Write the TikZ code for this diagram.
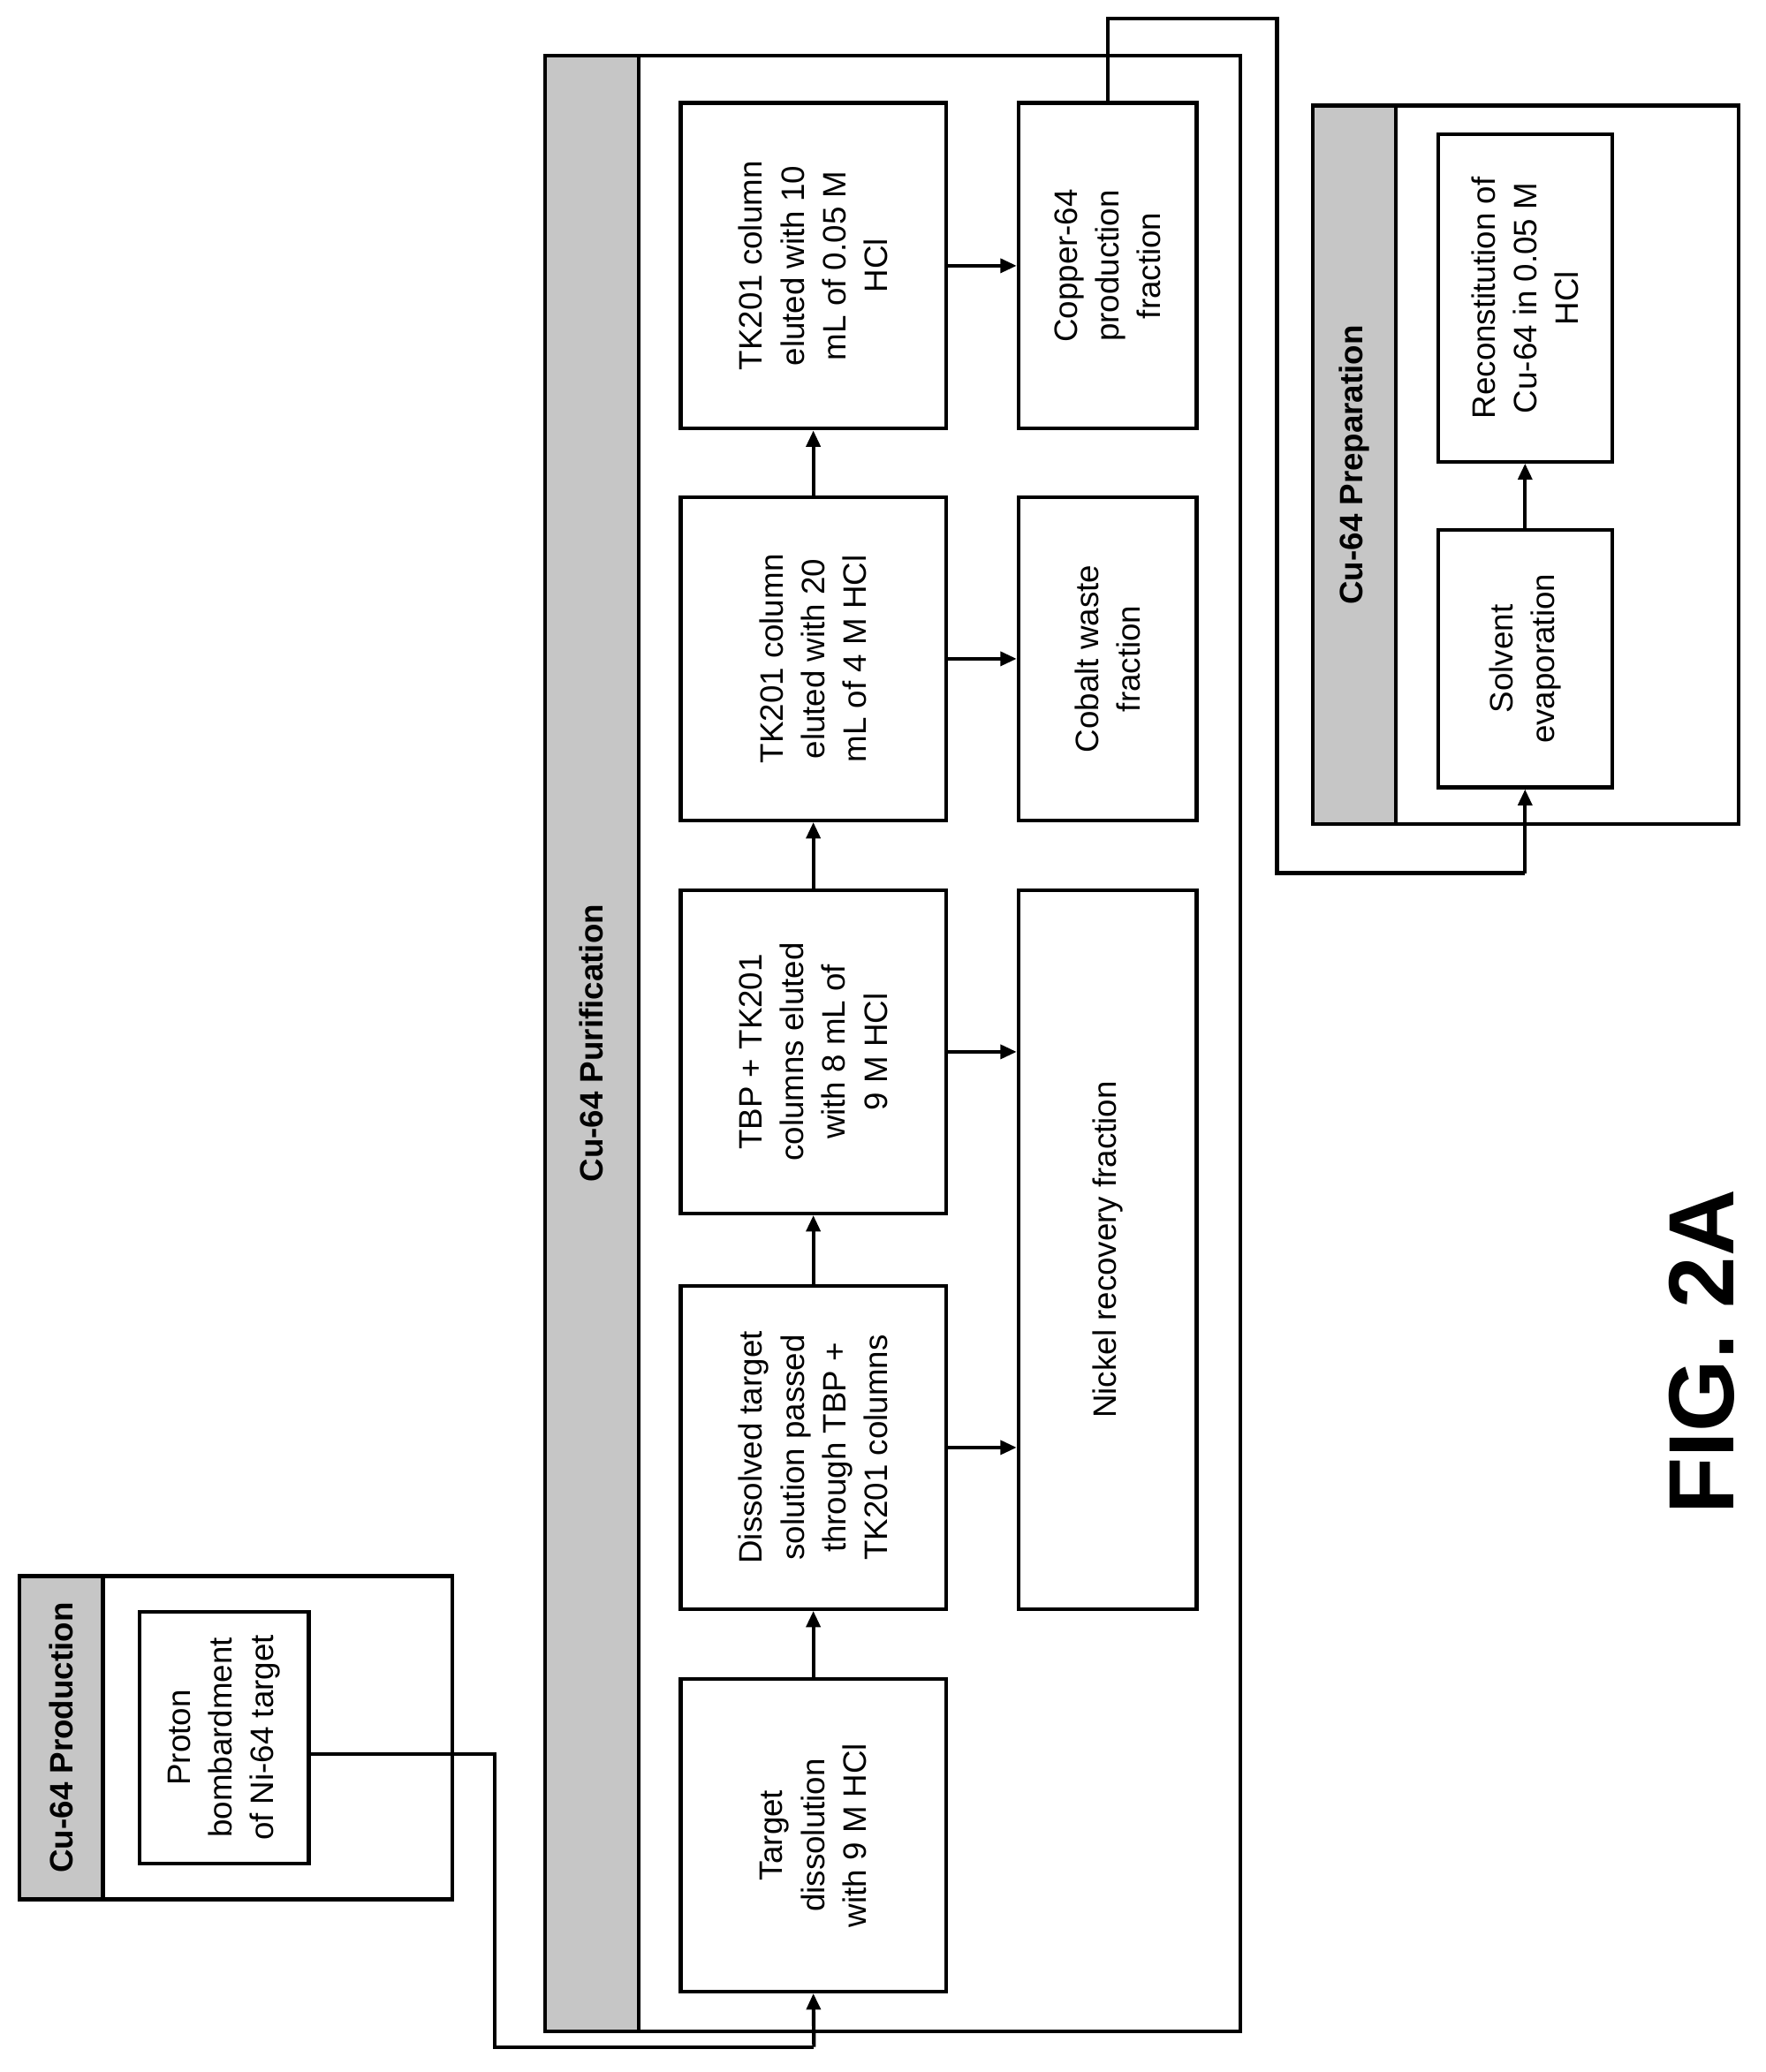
\documentclass[tikz,border=0pt]{standalone}
\usepackage{fontspec}
\setmainfont{Liberation Sans}
\usetikzlibrary{arrows.meta}
\begin{document}
\begin{tikzpicture}[x=0.02cm,y=-0.02cm,
  box/.style={draw,line width=1.6pt,rotate=90,align=center,inner sep=0pt,font=\fontsize{14}{18}\selectfont},
  hdr/.style={rotate=90,font=\bfseries\fontsize{14}{18}\selectfont},
  frame/.style={line width=1.6pt},
  arr/.style={line width=1.6pt,-{Triangle[length=7pt,width=6pt]}},
  ln/.style={line width=1.6pt}]
\useasboundingbox (0,0) rectangle (1338,1571);
% outer frames
\fill[gray!45] (15,1195) rectangle (78,1440);
\draw[frame] (15,1195) rectangle (343,1440);
\draw[frame] (78,1195) -- (78,1440);
\node[hdr] (hp) at (46.5,1317.5) {Cu-64 Production};
\fill[gray!45] (413,42) rectangle (484,1540);
\draw[frame] (413,42) rectangle (940,1540);
\draw[frame] (484,42) -- (484,1540);
\node[hdr] (hpu) at (448.5,791) {Cu-64 Purification};
\fill[gray!45] (995,80) rectangle (1058,625);
\draw[frame] (995,80) rectangle (1318,625);
\draw[frame] (1058,80) -- (1058,625);
\node[hdr] (hpr) at (1026.5,352.5) {Cu-64 Preparation};
% boxes
\node[box,minimum width=3.82cm,minimum height=2.56cm] (p) at (170,1317.5) {Proton\\bombardment\\of Ni-64 target};
\node[box,minimum width=4.74cm,minimum height=4.02cm] (b1) at (616.5,1391.5) {Target\\dissolution\\with 9 M HCl};
\node[box,minimum width=4.9cm,minimum height=4.02cm] (b2) at (616.5,1097.5) {Dissolved target\\solution passed\\through TBP +\\TK201 columns};
\node[box,minimum width=4.9cm,minimum height=4.02cm] (b3) at (616.5,797.5) {TBP + TK201\\columns eluted\\with 8 mL of\\9 M HCl};
\node[box,minimum width=4.9cm,minimum height=4.02cm] (b4) at (616.5,499.5) {TK201 column\\eluted with 20\\mL of 4 M HCl};
\node[box,minimum width=4.94cm,minimum height=4.02cm] (b5) at (616.5,201.5) {TK201 column\\eluted with 10\\mL of 0.05 M\\HCl};
\node[box,minimum width=10.9cm,minimum height=2.7cm] (ni) at (839.5,947.5) {Nickel recovery fraction};
\node[box,minimum width=4.9cm,minimum height=2.7cm] (co) at (839.5,499.5) {Cobalt waste\\fraction};
\node[box,minimum width=4.94cm,minimum height=2.7cm] (cu) at (839.5,201.5) {Copper-64\\production\\fraction};
\node[box,minimum width=3.9cm,minimum height=2.64cm] (sv) at (1156,499.5) {Solvent\\evaporation};
\node[box,minimum width=4.96cm,minimum height=2.64cm] (rc) at (1156,226) {Reconstitution of\\Cu-64 in 0.05 M\\HCl};
\node[rotate=90,font=\bfseries\fontsize{40}{48}\selectfont] (fig) at (1290,1025) {FIG. 2A};
% connectors
\coordinate (c1) at (375,1330);
\coordinate (c2) at (375,1552);
\coordinate (c3) at (617,1552);
\draw[ln] (p.south |- c1) -- (c1) -- (c2) -- (c3);
\draw[arr] (c3) -- (b1.west);
\draw[arr] (b1.east) -- (b2.west);
\draw[arr] (b2.east) -- (b3.west);
\draw[arr] (b3.east) -- (b4.west);
\draw[arr] (b4.east) -- (b5.west);
\draw[arr] (b2.south) -- (b2.south -| ni.north);
\draw[arr] (b3.south) -- (b3.south -| ni.north);
\draw[arr] (b4.south) -- (co.north);
\draw[arr] (b5.south) -- (cu.north);
\coordinate (d1) at (839.5,14);
\coordinate (d2) at (968,14);
\coordinate (d3) at (968,662);
\coordinate (d4) at (1156,662);
\draw[ln] (cu.east) -- (d1) -- (d2) -- (d3) -- (d4);
\draw[arr] (d4) -- (sv.west);
\draw[arr] (sv.east) -- (rc.west);
\end{tikzpicture}
\end{document}
